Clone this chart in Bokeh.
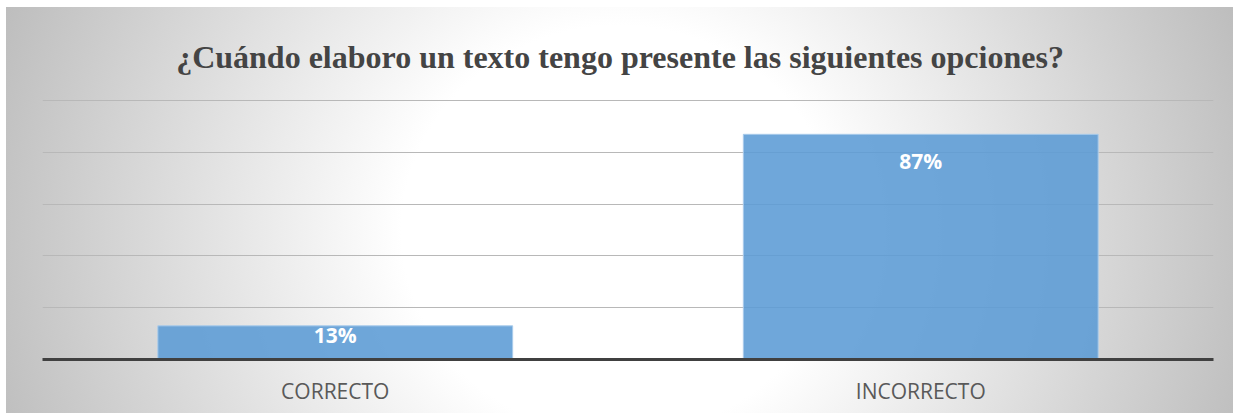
from bokeh.plotting import figure
from bokeh.models import FactorRange, Range1d, FixedTicker, ColumnDataSource, Label
from bokeh.core.properties import value
from bokeh.embed import file_html
from bokeh.resources import INLINE

# data
categories = ["CORRECTO", "INCORRECTO"]
values = [13, 87]
value_labels = ["13%", "87%"]
grid_ticks = [20, 40, 60, 80, 100]
title_text = "¿Cuándo elaboro un texto tengo presente las siguientes opciones?"

# styles
label_offsets = [9, 27]

source = ColumnDataSource(dict(cat=categories, val=values, lab=value_labels, dy=label_offsets))

p = figure(
    x_range=FactorRange(*categories),
    y_range=Range1d(0, 136),
    width=1227, height=406,
    output_backend="svg",
    toolbar_location=None,
    min_border_left=36, min_border_right=20,
    min_border_top=0, min_border_bottom=54,
)

p.styles = {
    "margin": "7px 0 0 6px",
    "background": "radial-gradient(ellipse 660px 620px at 50% 55%, #ffffff 0%, #ffffff 33%, #bdbdbd 100%)",
}
p.background_fill_alpha = 0
p.border_fill_alpha = 0
p.outline_line_color = None

p.vbar(x="cat", top="val", width=0.606, source=source,
       fill_color="#5b9bd5", fill_alpha=0.88, line_color="#a9cbeb", line_width=1)

p.text(x="cat", y="val", text="lab", y_offset="dy", source=source,
       text_align="center", text_baseline="middle", text_color="white",
       text_font=value("Open Sans"), text_font_style="bold", text_font_size="21px")

p.ygrid.ticker = FixedTicker(ticks=grid_ticks)
p.ygrid.grid_line_color = "#b8b8b8"
p.ygrid.grid_line_width = 1
p.xgrid.visible = False
p.yaxis.visible = False

ax = p.xaxis[0]
ax.axis_line_color = "#404040"
ax.axis_line_width = 3
ax.major_tick_line_color = None
ax.minor_tick_line_color = None
ax.major_tick_out = 0
ax.major_label_standoff = 17
ax.major_label_text_font = "Open Sans"
ax.major_label_text_font_size = "21px"
ax.major_label_text_color = "#595959"

title = Label(
    x=1.0, y=grid_ticks[-1], x_units="data", y_units="data",
    x_offset=-8, y_offset=44,
    text=title_text, text_align="center", text_baseline="alphabetic",
    text_font="Liberation Serif", text_font_style="bold",
    text_font_size="32px", text_color="#444444",
)
p.add_layout(title)

open("out.html", "w").write(file_html(p, INLINE))
